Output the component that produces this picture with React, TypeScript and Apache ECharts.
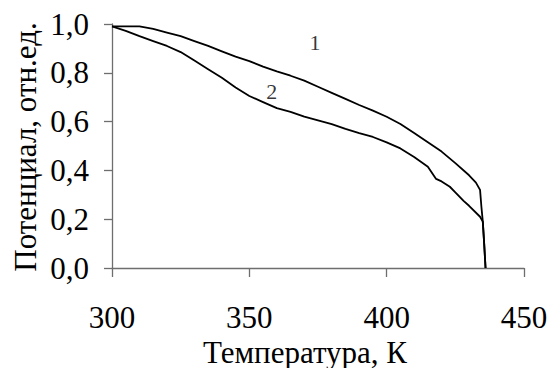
import React, { useEffect, useRef } from "react";
import * as echarts from "echarts";

const temps1 = [300, 305, 310, 315, 320, 325, 330, 335, 340, 345, 350, 355, 360, 365, 370, 375, 380, 385, 390, 395, 400, 405, 410, 415, 420, 425, 430, 432.5, 434, 434.5, 435, 435.5, 436];
const curve1 = [0.99, 0.99, 0.99, 0.98, 0.965, 0.95, 0.93, 0.91, 0.888, 0.866, 0.848, 0.825, 0.806, 0.788, 0.768, 0.743, 0.718, 0.693, 0.668, 0.645, 0.62, 0.59, 0.553, 0.515, 0.477, 0.43, 0.38, 0.35, 0.32, 0.25, 0.19, 0.1, 0.0];

const temps2 = [300, 305, 310, 315, 320, 325, 330, 335, 340, 345, 350, 355, 360, 365, 370, 375, 380, 385, 390, 395, 400, 405, 410, 415, 418, 420, 423, 425, 428, 430, 434, 435, 435.5, 436];
const curve2 = [0.99, 0.972, 0.95, 0.93, 0.91, 0.885, 0.85, 0.815, 0.78, 0.74, 0.705, 0.68, 0.655, 0.64, 0.62, 0.605, 0.59, 0.57, 0.553, 0.537, 0.515, 0.49, 0.455, 0.415, 0.365, 0.355, 0.333, 0.31, 0.275, 0.255, 0.21, 0.19, 0.1, 0.0];

const curveLabels = ["1", "2"];
const labelPositions: [number, number][] = [[373.9, 0.926], [358.2, 0.723]];

const xTicks = [300, 350, 400, 450];
const yTicks = [0, 0.2, 0.4, 0.6, 0.8, 1.0];
const yTickLabels = ["0,0", "0,2", "0,4", "0,6", "0,8", "1,0"];
const xAxisName = "Температура, К";
const yAxisName = "Потенциал, отн.ед.";

const FONT = "Liberation Serif";

export default function App() {
  const ref = useRef<HTMLDivElement>(null);
  useEffect(() => {
    if (!ref.current) return;
    const chart = echarts.init(ref.current, null, { renderer: "svg" });
    chart.setOption({
      animation: false,
      backgroundColor: "#ffffff",
      textStyle: { fontFamily: FONT },
      grid: { left: 112, right: 28, top: 24, bottom: 100 },
      xAxis: {
        type: "value",
        min: xTicks[0],
        max: xTicks[xTicks.length - 1],
        interval: 50,
        axisLine: { lineStyle: { color: "#6e6e6e", width: 1.3 } },
        axisTick: { show: true, length: 9, inside: false, lineStyle: { color: "#6e6e6e", width: 1.3 } },
        axisLabel: { show: false },
        splitLine: { show: false },
      },
      yAxis: {
        type: "value",
        min: 0,
        max: 1,
        interval: 0.2,
        axisLine: { show: true, lineStyle: { color: "#6e6e6e", width: 1.3 } },
        axisTick: { show: true, length: 8, inside: false, lineStyle: { color: "#6e6e6e", width: 1.3 } },
        axisLabel: { show: false },
        splitLine: { show: false },
      },
      series: [
        {
          type: "line",
          data: temps1.map((t, i) => [t, curve1[i]]),
          showSymbol: false,
          lineStyle: { color: "#000", width: 1.8 },
        },
        {
          type: "line",
          data: temps2.map((t, i) => [t, curve2[i]]),
          showSymbol: false,
          lineStyle: { color: "#000", width: 1.8 },
        },
        {
          type: "scatter",
          data: labelPositions.map((p, i) => ({ value: p, name: curveLabels[i] })),
          symbolSize: 0,
          label: {
            show: true,
            position: "inside",
            formatter: (p: any) => p.name,
            fontFamily: FONT,
            fontSize: 22,
            color: "#000",
          },
        },
      ],
    });

    const textStyle = (text: string, x: number, y: number, align: string) => ({
      text,
      x,
      y,
      fill: "#000",
      fontFamily: FONT,
      fontSize: 31,
      align,
      verticalAlign: "middle",
    });
    const elements: any[] = [];
    xTicks.forEach((t) => {
      const p = chart.convertToPixel({ xAxisIndex: 0 }, t) as number;
      elements.push({ type: "text", style: textStyle(String(t), p, 317, "center") });
    });
    yTicks.forEach((v, i) => {
      const p = chart.convertToPixel({ yAxisIndex: 0 }, v) as number;
      elements.push({ type: "text", style: textStyle(yTickLabels[i], 89, p, "right") });
    });
    elements.push({ type: "text", style: textStyle(xAxisName, 305, 352, "center") });
    elements.push({
      type: "text",
      x: 25,
      y: 147,
      rotation: Math.PI / 2,
      style: textStyle(yAxisName, 0, 0, "center"),
    });
    chart.setOption({ graphic: { elements } });
    return () => chart.dispose();
  }, []);
  return <div ref={ref} style={{ width: 552, height: 368, position: "absolute", left: 0, top: 0 }} />;
}
